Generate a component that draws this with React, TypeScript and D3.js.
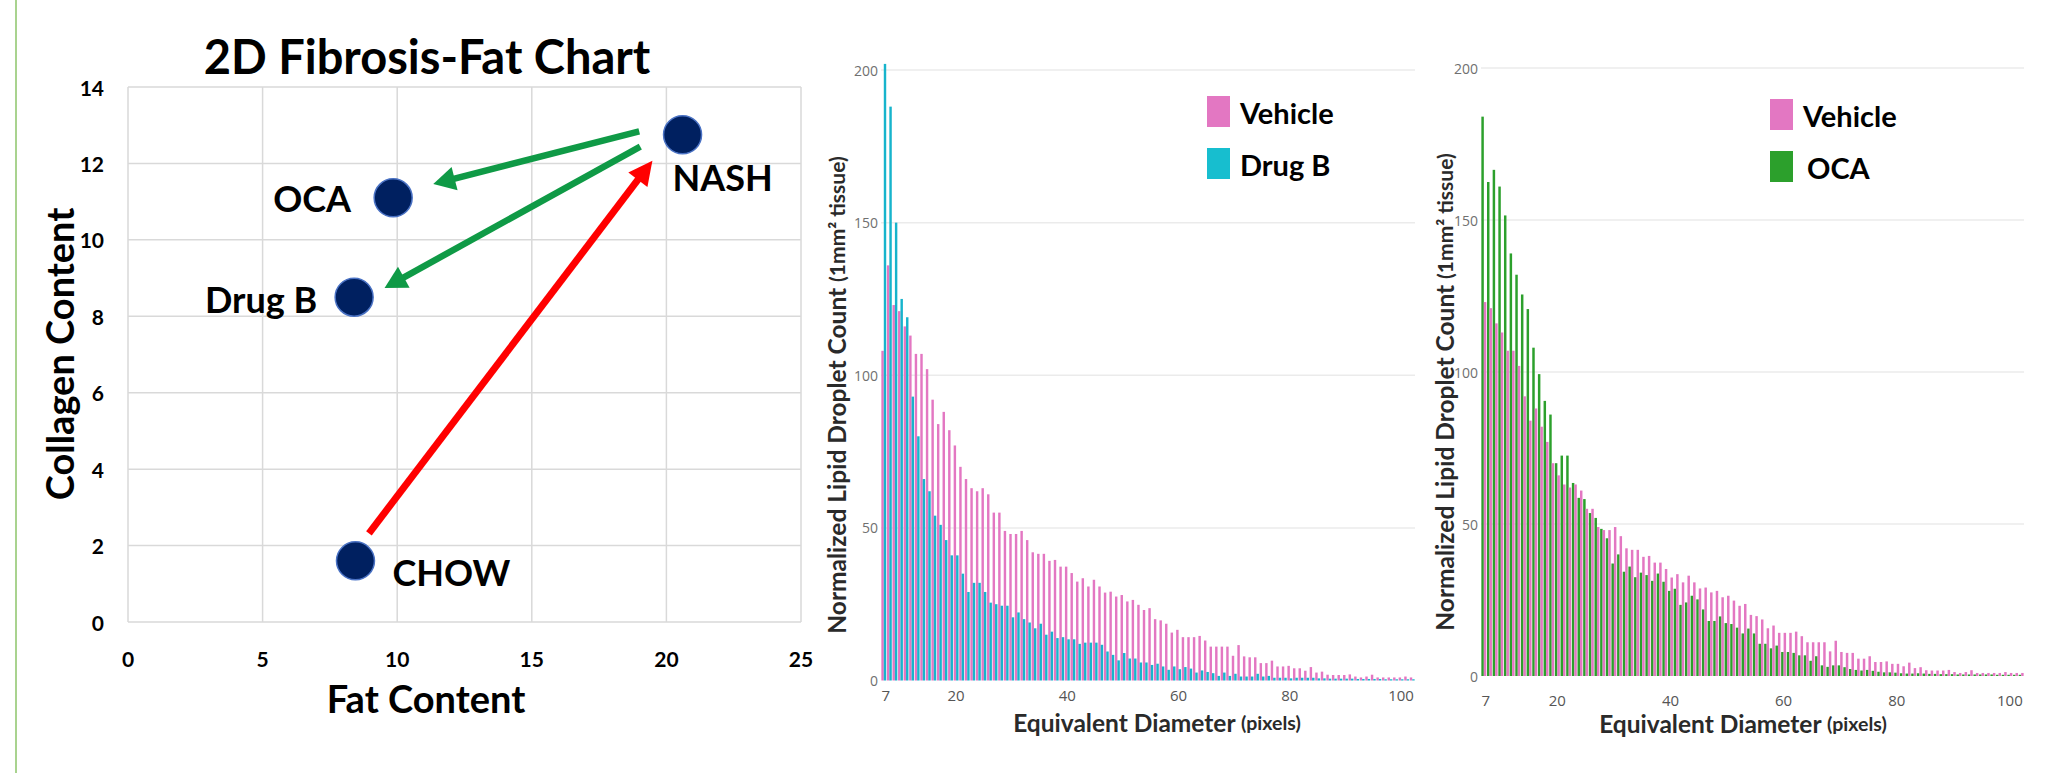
import React from 'react';
import * as d3 from 'd3';

// ---- 2D fibrosis-fat scatter ----
const groupNames = ['CHOW', 'NASH', 'OCA', 'Drug B'];
const fatContent = [8.45, 20.6, 9.85, 8.4];
const collagenContent = [1.6, 12.75, 11.1, 8.5];
const fatTicks = [0, 5, 10, 15, 20, 25];
const collagenTicks = [0, 2, 4, 6, 8, 10, 12, 14];

// arrows between groups, in data units (CHOW->NASH, NASH->OCA, NASH->Drug B)
const arrowStartFat = [8.95, 18.99, 19.03];
const arrowStartCollagen = [2.32, 12.84, 12.44];
const arrowEndFat = [19.48, 11.34, 9.53];
const arrowEndCollagen = [12.07, 11.46, 8.74];

// ---- lipid droplet histograms (one bin per pixel of diameter) ----
const firstDiameter = 7;
const vehicleVsDrugB = [
  108, 136, 123, 121, 116, 113, 107, 107, 102, 92,
  84, 88, 82, 77, 70, 66, 63, 62, 63, 61,
  55, 55, 49, 48, 48, 49, 46, 42, 41.5, 41.5,
  39.2, 39.5, 37.3, 37.3, 35.2, 32.4, 33.5, 30.8, 33, 30.8,
  28.8, 29.1, 27.5, 28, 25.9, 26.4, 24.8, 23.1, 23.7, 20.1,
  19.7, 18.6, 15.7, 16.6, 14.2, 14.2, 14.2, 14.6, 13.1, 11.1,
  11.1, 11.1, 11.1, 8.1, 11.6, 7.9, 7.6, 7.6, 5.7, 5.7,
  6.5, 4.6, 4.6, 4.8, 4, 4, 3.2, 4.4, 2.6, 2.9,
  1.9, 1.8, 1.8, 1.8, 2, 1.3, 1, 1.3, 1.9, 1,
  1, 1, 1, 1, 1.3, 1,
];
const drugB = [
  202, 188, 150, 125, 119, 93, 80, 66, 62, 54,
  51, 46, 41, 41, 35, 29, 32, 32, 29, 25.5,
  25, 24.5, 24.5, 20.7, 22.3, 20.1, 19, 17.1, 18.6, 15,
  16, 13.9, 14.2, 13.5, 13.5, 12, 12.4, 12.4, 12.4, 11.7,
  9.5, 8.4, 6.6, 9, 7.2, 7.2, 5.9, 5.9, 5.1, 5.5,
  4.6, 3.5, 4.6, 3.7, 4.4, 3.9, 2.6, 3.3, 2.8, 2.4,
  1.5, 2.6, 1.5, 2.2, 1.3, 1.3, 1.3, 2.2, 1.3, 1.5,
  0.9, 0.9, 0.9, 0.7, 0.9, 0.9, 0.9, 0.9, 0.7, 0.7,
  0.6, 0.6, 0.6, 0.6, 0.6, 0.5, 0.5, 0.5, 0.5, 0.5,
  0.4, 0.4, 0.4, 0.4, 0.4, 0.4,
];
const ocaCounts = [
  184, 162.5, 166.5, 161, 151.5, 139, 132, 125.5, 120.7, 108,
  99.3, 90.5, 86, 70, 72.5, 72.5, 63.5, 58.6, 58.2, 53.6,
  52, 48.4, 45.3, 37, 40, 34.3, 36, 32.5, 34, 33.2,
  31.3, 33.7, 31, 28, 28.7, 23.4, 24.2, 26.4, 25.2, 21.9,
  18.1, 18.1, 19.6, 17.4, 17.1, 15.9, 14, 15.6, 14, 10.6,
  10.6, 9.1, 10, 7.9, 7.9, 7.6, 6.8, 6.8, 5, 6.5,
  3.5, 3, 3.5, 3.5, 2.9, 2.3, 2, 1.8, 2, 1.7,
  1.4, 1.2, 1.2, 1.1, 0.9, 0.8, 0.8, 0.9, 0.8, 0.7,
  0.7, 0.6, 0.6, 0.6, 0.5, 0.5, 0.5, 0.5, 0.5, 0.5,
  0.5, 0.4, 0.4, 0.4, 0.4, 0.4,
];
const vehicleVsOca = [
  123, 121, 116, 113, 107, 107, 102, 92, 84, 88,
  82, 77, 70, 66, 63, 62, 63, 61, 55, 55,
  49, 48, 48, 49, 46, 42, 41.5, 41.5, 39.2, 39.5,
  37.3, 37.3, 35.2, 32.4, 33.5, 30.8, 33, 30.8, 28.8, 29.1,
  27.5, 28, 25.9, 26.4, 24.8, 23.1, 23.7, 20.1, 19.7, 18.6,
  15.7, 16.6, 14.2, 14.2, 14.2, 14.6, 13.1, 11.1, 11.1, 11.1,
  11.1, 8.1, 11.6, 7.9, 7.6, 7.6, 5.7, 5.7, 6.5, 4.6,
  4.6, 4.8, 4, 4, 3.2, 4.4, 2.6, 2.9, 1.9, 1.8,
  1.8, 1.8, 2, 1.3, 1, 1.3, 1.9, 1, 1, 1,
  1, 1, 1.3, 1, 1, 1,
];
const diameterTicks = [20, 40, 60, 80, 100];
const countTicks = [0, 50, 100, 150, 200];

const calibriLike = 'Lato, "Open Sans", sans-serif';
const plotlyFont = '"Open Sans", "DejaVu Sans", sans-serif';

// label offsets from the marker centre, px
const labelOffset: Record<string, [number, number]> = {
  CHOW: [96, 11],
  NASH: [40, 42],
  OCA: [-81, 0],
  'Drug B': [-93, 2],
};

function Arrow({ x0, y0, x1, y1, color, width, head, half }: any) {
  const len = Math.hypot(x1 - x0, y1 - y0);
  const ux = (x1 - x0) / len;
  const uy = (y1 - y0) / len;
  const bx = x1 - ux * head;
  const by = y1 - uy * head;
  const nx = -uy;
  const ny = ux;
  return (
    <g>
      <line x1={x0} y1={y0} x2={bx + ux * 3} y2={by + uy * 3} stroke={color} strokeWidth={width} />
      <polygon
        points={`${x1},${y1} ${bx + nx * half},${by + ny * half} ${bx - nx * half},${by - ny * half}`}
        fill={color}
      />
    </g>
  );
}

function ScatterPanel() {
  const x = d3.scaleLinear().domain([0, 25]).range([128, 801]);
  const y = d3.scaleLinear().domain([0, 14]).range([622, 87]);

  return (
    <g fontFamily={calibriLike} fontWeight={700} fill="#000">
      {/* grid */}
      {fatTicks.map((t) => (
        <line key={'gx' + t} x1={x(t)} x2={x(t)} y1={y(0)} y2={y(14)} stroke="#d9d9d9" strokeWidth={1.5} />
      ))}
      {collagenTicks.map((t) => (
        <line key={'gy' + t} x1={x(0)} x2={x(25)} y1={y(t)} y2={y(t)} stroke="#d9d9d9" strokeWidth={1.5} />
      ))}

      {/* tick labels */}
      {fatTicks.map((t) => (
        <text key={'tx' + t} x={x(t)} y={y(0) + 36} textAnchor="middle" dominantBaseline="central" fontSize={21}>
          {t}
        </text>
      ))}
      {collagenTicks.map((t) => (
        <text key={'ty' + t} x={104} y={y(t)} textAnchor="end" dominantBaseline="central" fontSize={21}>
          {t}
        </text>
      ))}

      <text x={427} y={56} textAnchor="middle" dominantBaseline="central" fontSize={47}>
        2D Fibrosis-Fat Chart
      </text>
      <text x={426} y={698} textAnchor="middle" dominantBaseline="central" fontSize={38}>
        Fat Content
      </text>
      <text
        transform={`translate(59,354) rotate(-90)`}
        textAnchor="middle"
        dominantBaseline="central"
        fontSize={38}
      >
        Collagen Content
      </text>

      {/* arrows */}
      {arrowStartFat.map((_, i) => (
        <Arrow
          key={'arrow' + i}
          x0={x(arrowStartFat[i])}
          y0={y(arrowStartCollagen[i])}
          x1={x(arrowEndFat[i])}
          y1={y(arrowEndCollagen[i])}
          color={i === 0 ? '#ff0000' : '#0f9a46'}
          width={i === 0 ? 7 : 6.5}
          head={i === 0 ? 24 : 22}
          half={12}
        />
      ))}

      {/* groups */}
      {groupNames.map((g, i) => (
        <g key={g}>
          <circle cx={x(fatContent[i])} cy={y(collagenContent[i])} r={19} fill="#002060" stroke="#4a72c4" strokeWidth={1.5} />
          <text
            x={x(fatContent[i]) + labelOffset[g][0]}
            y={y(collagenContent[i]) + labelOffset[g][1]}
            textAnchor="middle"
            dominantBaseline="central"
            fontSize={36}
          >
            {g}
          </text>
        </g>
      ))}
    </g>
  );
}

function Histogram({
  left, right, zeroY, topY, leftValues, rightValues, leftColor, rightColor,
  legend, legendX, legendY, yTitleX, yTitleY, xTitleX, xTitleY, tickY,
}: any) {
  const x = d3.scaleLinear().domain([firstDiameter - 0.5, firstDiameter + leftValues.length - 0.5]).range([left, right]);
  const y = d3.scaleLinear().domain([0, 200]).range([zeroY, topY]);
  const bins = d3.range(leftValues.length).map((i) => firstDiameter + i);
  const gap = 0.35;

  return (
    <g fontFamily={plotlyFont}>
      {countTicks.filter((t) => t > 0).map((t) => (
        <line key={'g' + t} x1={left} x2={right} y1={y(t)} y2={y(t)} stroke="#ebebeb" strokeWidth={1.5} />
      ))}
      {countTicks.map((t) => (
        <text key={'yt' + t} x={left - 3} y={y(t)} textAnchor="end" dominantBaseline="central" fontSize={14} fill="#707070">
          {t}
        </text>
      ))}
      {bins.map((d, i) => (
        <g key={'b' + d}>
          <rect
            x={x(d - 0.5) + gap}
            width={x(d) - x(d - 0.5) - gap}
            y={y(leftValues[i])}
            height={zeroY - y(leftValues[i])}
            fill={leftColor}
          />
          <rect
            x={x(d)}
            width={x(d + 0.5) - x(d) - gap}
            y={y(rightValues[i])}
            height={zeroY - y(rightValues[i])}
            fill={rightColor}
          />
        </g>
      ))}
      <text x={x(firstDiameter) + 2} y={tickY} textAnchor="middle" dominantBaseline="central" fontSize={15} fill="#555">
        {firstDiameter}
      </text>
      {diameterTicks.map((t) => (
        <text key={'xt' + t} x={x(t)} y={tickY} textAnchor="middle" dominantBaseline="central" fontSize={15} fill="#555">
          {t}
        </text>
      ))}

      {legend.map((l: any, i: number) => (
        <g key={l.label}>
          <rect x={legendX} y={legendY + i * 52} width={23} height={31} fill={l.color} />
          <text
            x={legendX + 33 + (l.indent || 0)}
            y={legendY + i * 52 + 16}
            dominantBaseline="central"
            fontFamily={calibriLike}
            fontWeight={700}
            fontSize={29}
            fill="#000"
          >
            {l.label}
          </text>
        </g>
      ))}

      <text
        transform={`translate(${yTitleX},${yTitleY}) rotate(-90)`}
        textAnchor="middle"
        dominantBaseline="central"
        fontFamily={calibriLike}
        fontWeight={700}
        fill="#2a2a2a"
      >
        <tspan fontSize={24.5}>Normalized Lipid Droplet Count </tspan>
        <tspan fontSize={21}>(1mm² tissue)</tspan>
      </text>
      <text
        x={xTitleX}
        y={xTitleY}
        textAnchor="middle"
        dominantBaseline="central"
        fontFamily={calibriLike}
        fontWeight={700}
        fill="#2a2a2a"
      >
        <tspan fontSize={24.5}>Equivalent Diameter </tspan>
        <tspan fontSize={19.5}>(pixels)</tspan>
      </text>
    </g>
  );
}

export default function App() {
  return (
    <svg width={2045} height={773} style={{ position: 'absolute', left: 0, top: 0, background: '#fff' }}>
      <rect width={2045} height={773} fill="#fff" />
      <line x1={16} x2={16} y1={0} y2={773} stroke="#8cc56a" strokeWidth={1.5} />
      <ScatterPanel />
      <Histogram
        left={881}
        right={1415}
        zeroY={680.5}
        topY={70}
        leftValues={vehicleVsDrugB}
        rightValues={drugB}
        leftColor="#e377c2"
        rightColor="#17b4cc"
        legend={[
          { label: 'Vehicle', color: '#e377c2' },
          { label: 'Drug B', color: '#17becf' },
        ]}
        legendX={1207}
        legendY={96}
        yTitleX={836}
        yTitleY={395}
        xTitleX={1157}
        xTitleY={722}
        tickY={695}
      />
      <Histogram
        left={1481}
        right={2024}
        zeroY={676}
        topY={68}
        leftValues={ocaCounts}
        rightValues={vehicleVsOca}
        leftColor="#2ca02c"
        rightColor="#e377c2"
        legend={[
          { label: 'Vehicle', color: '#e377c2' },
          { label: 'OCA', color: '#2ca02c', indent: 4 },
        ]}
        legendX={1770}
        legendY={99}
        yTitleX={1444}
        yTitleY={392}
        xTitleX={1743}
        xTitleY={723}
        tickY={700}
      />
    </svg>
  );
}
